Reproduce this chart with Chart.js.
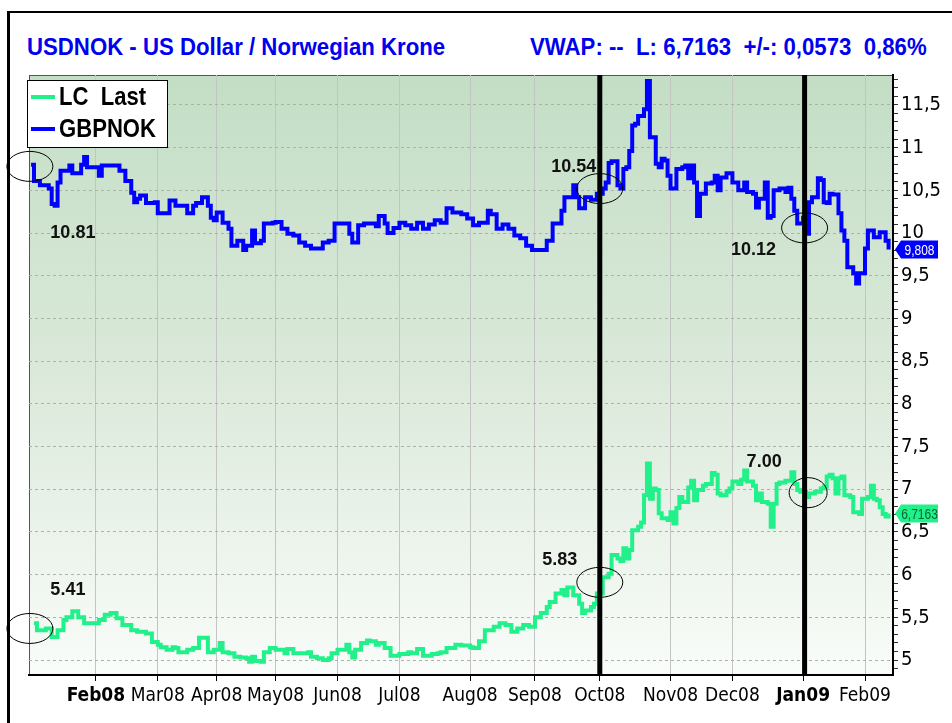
<!DOCTYPE html>
<html>
<head>
<meta charset="utf-8">
<script src="https://cdn.jsdelivr.net/npm/chart.js@4.4.1/dist/chart.umd.min.js"></script>
<style>
  body { margin: 0; background: #fff; }
  #wrap { position: relative; width: 952px; height: 723px; overflow: hidden; }
  #frame { position: absolute; left: 7px; top: 11px; width: 980px; height: 760px;
           border-left: 3px solid #000; border-top: 2px solid #000; }
  .head { position: absolute; top: 33px; color: #0000f0; font: bold 24px "Liberation Sans", Arial, sans-serif;
          white-space: pre; transform: scaleX(0.925); transform-origin: 0 0; }
  #c { position: absolute; left: 0; top: 0; }
</style>
</head>
<body>
<div id="wrap">
  <div id="frame"></div>
  <div class="head" style="left:27px">USDNOK - US Dollar / Norwegian Krone</div>
  <div class="head" style="left:530px">VWAP: --  L: 6,7163  +/-: 0,0573  0,86%</div>
  <canvas id="c" width="952" height="723"></canvas>
</div>
<script>
// x = trading days counted from 1 Feb 2008
const monthLabels = ["Feb08", "Mar08", "Apr08", "May08", "Jun08", "Jul08", "Aug08", "Sep08", "Oct08", "Nov08", "Dec08", "Jan09", "Feb09"];
const monthDays = [0, 21, 41, 61, 82, 103, 127, 149, 171, 195, 216, 240, 261];
const boldMonths = ["Feb08", "Jan09"];

const gbpDays = [-22, -21, -19, -17, -16, -15, -14, -13, -12, -10, -9, -8, -6, -5, -4, -3, 0, 1, 2, 6, 8, 10, 12, 13, 14, 15, 17, 19, 20, 21, 23, 25, 27, 30, 31, 33, 34, 36, 38, 39, 40, 41, 43, 45, 46, 48, 50, 51, 53, 54, 56, 57, 60, 61, 63, 65, 67, 69, 71, 73, 75, 77, 79, 81, 85, 86, 87, 89, 91, 93, 95, 96, 98, 99, 101, 103, 105, 107, 109, 111, 113, 115, 117, 119, 121, 124, 126, 128, 130, 131, 133, 134, 136, 138, 140, 142, 144, 146, 148, 151, 153, 155, 158, 159, 162, 163, 164, 166, 168, 170, 172, 173, 174, 175, 177, 178, 179, 180, 181, 182, 183, 184, 185, 186, 187, 188, 189, 190, 191, 192, 193, 194, 195, 197, 199, 200, 201, 202, 203, 204, 205, 207, 209, 210, 211, 212, 214, 216, 218, 219, 220, 221, 223, 224, 225, 227, 228, 229, 230, 232, 234, 235, 236, 237, 238, 240, 241, 242, 243, 245, 246, 247, 248, 249, 250, 252, 253, 254, 255, 256, 257, 258, 259, 261, 262, 263, 264, 265, 266, 267, 268, 269];
const gbpValues = [10.80, 10.61, 10.56, 10.56, 10.52, 10.34, 10.32, 10.59, 10.73, 10.73, 10.79, 10.70, 10.70, 10.80, 10.89, 10.77, 10.77, 10.67, 10.79, 10.79, 10.73, 10.61, 10.47, 10.36, 10.40, 10.44, 10.35, 10.35, 10.36, 10.23, 10.23, 10.38, 10.32, 10.32, 10.23, 10.32, 10.35, 10.42, 10.32, 10.18, 10.15, 10.24, 10.12, 10.05, 9.85, 9.91, 9.80, 9.85, 10.03, 9.88, 9.91, 10.11, 10.12, 10.13, 10.05, 9.99, 9.97, 9.89, 9.85, 9.82, 9.82, 9.89, 9.91, 10.11, 10.11, 9.99, 9.89, 10.09, 10.11, 10.11, 10.08, 10.20, 10.11, 10.00, 10.06, 10.12, 10.09, 10.05, 10.12, 10.05, 10.10, 10.15, 10.12, 10.29, 10.24, 10.22, 10.17, 10.09, 10.12, 10.12, 10.26, 10.22, 10.05, 10.10, 10.05, 9.97, 9.94, 9.85, 9.80, 9.80, 9.91, 10.11, 10.26, 10.42, 10.56, 10.42, 10.29, 10.42, 10.39, 10.46, 10.52, 10.59, 10.82, 10.84, 10.56, 10.52, 10.75, 10.77, 10.96, 11.26, 11.28, 11.37, 11.37, 11.45, 11.78, 11.12, 11.12, 10.81, 10.77, 10.87, 10.85, 10.67, 10.52, 10.75, 10.77, 10.79, 10.64, 10.79, 10.59, 10.20, 10.46, 10.58, 10.59, 10.67, 10.50, 10.65, 10.70, 10.59, 10.50, 10.50, 10.59, 10.48, 10.46, 10.30, 10.40, 10.59, 10.18, 10.20, 10.50, 10.52, 10.48, 10.53, 10.40, 10.26, 10.11, 10.18, 9.99, 10.36, 10.42, 10.64, 10.62, 10.36, 10.35, 10.46, 10.45, 10.23, 10.03, 9.91, 9.60, 9.60, 9.53, 9.41, 9.53, 9.82, 10.03, 10.03, 9.95, 9.95, 10.01, 10.01, 9.91, 9.808];

const lcDays = [-21, -20, -17, -16, -15, -13, -11, -10, -8, -6, -5, -4, 0, 1, 3, 5, 7, 9, 12, 14, 17, 19, 21, 22, 24, 26, 27, 28, 31, 33, 35, 37, 38, 40, 42, 43, 45, 47, 49, 51, 52, 53, 54, 56, 57, 59, 61, 63, 64, 65, 67, 70, 72, 73, 75, 77, 79, 80, 82, 85, 86, 87, 88, 90, 92, 93, 95, 96, 98, 100, 103, 106, 107, 109, 111, 114, 116, 117, 119, 122, 124, 127, 128, 130, 132, 135, 137, 139, 141, 143, 145, 147, 149, 151, 153, 154, 156, 158, 159, 160, 162, 164, 165, 166, 168, 169, 170, 172, 174, 175, 177, 178, 179, 180, 181, 182, 184, 185, 186, 187, 188, 189, 190, 191, 192, 194, 195, 196, 197, 198, 199, 201, 202, 203, 204, 206, 207, 209, 210, 211, 212, 214, 215, 216, 218, 219, 220, 221, 223, 224, 225, 226, 228, 229, 230, 231, 232, 234, 236, 237, 238, 239, 240, 241, 242, 244, 246, 247, 248, 249, 250, 251, 252, 253, 254, 256, 257, 259, 260, 262, 263, 264, 265, 266, 267, 268, 269];
const lcValues = [5.43, 5.35, 5.37, 5.37, 5.27, 5.35, 5.47, 5.50, 5.57, 5.50, 5.50, 5.43, 5.43, 5.47, 5.53, 5.55, 5.49, 5.41, 5.35, 5.33, 5.31, 5.21, 5.18, 5.15, 5.12, 5.15, 5.14, 5.09, 5.12, 5.14, 5.26, 5.26, 5.09, 5.12, 5.20, 5.09, 5.08, 5.04, 5.03, 5.02, 4.98, 5.04, 4.99, 4.98, 5.09, 5.14, 5.12, 5.12, 5.08, 5.13, 5.08, 5.08, 5.09, 5.04, 5.02, 5.00, 5.02, 5.08, 5.12, 5.18, 5.09, 5.03, 5.12, 5.20, 5.23, 5.22, 5.18, 5.20, 5.14, 5.05, 5.07, 5.09, 5.08, 5.13, 5.05, 5.07, 5.08, 5.09, 5.14, 5.18, 5.17, 5.15, 5.14, 5.22, 5.35, 5.39, 5.43, 5.41, 5.33, 5.37, 5.41, 5.39, 5.50, 5.55, 5.62, 5.68, 5.78, 5.82, 5.76, 5.85, 5.76, 5.66, 5.55, 5.58, 5.62, 5.66, 5.78, 5.97, 6.01, 6.23, 6.19, 6.16, 6.31, 6.19, 6.29, 6.52, 6.56, 6.61, 6.93, 7.30, 6.89, 7.01, 6.99, 6.72, 6.66, 6.64, 6.73, 6.60, 6.78, 6.91, 6.85, 7.02, 7.10, 6.87, 6.99, 7.04, 7.06, 7.19, 7.17, 6.95, 6.93, 6.97, 7.01, 7.09, 7.06, 7.11, 7.22, 7.09, 7.04, 6.87, 6.95, 6.85, 6.83, 6.56, 6.83, 7.06, 7.08, 7.10, 7.20, 7.06, 6.99, 6.97, 6.97, 6.91, 6.95, 6.97, 7.01, 7.03, 7.15, 7.17, 7.13, 6.95, 7.13, 7.15, 6.93, 6.91, 6.73, 6.71, 6.89, 6.91, 7.04, 6.89, 6.87, 6.79, 6.71, 6.68, 6.7163];

// vertical markers (start of Oct08 and Jan09)
const markerDays = [171, 240.5];

// circled points and their labels
const noteDays = [-22.4, 171, 240.5, -22.4, 171, 241.7];
const noteValues = [10.78, 10.52, 10.06, 5.37, 5.91, 6.96];
const noteTexts = ["10.81", "10.54", "10.12", "5.41", "5.83", "7.00"];
// style: label offset from circle centre, circle radii
const noteOffsets = [[43, 67], [-26, -22], [-51, 22], [38, -38], [-40, -22], [-44, -31]];
const noteRadii = [[23, 15], [23, 15], [23, 15], [23, 15], [23, 15], [19, 15]];

const NARROW = '"DejaVu Sans Condensed", "Liberation Sans Narrow", "Arial Narrow", sans-serif';
const lcColor = "#22f08a";
const gbpColor = "#0000ff";

const toPoints = (days, vals) => days.map((d, i) => ({ x: d, y: vals[i] }));
const fmt = (v) => String(v).replace(".", ",");

// Arial squeezed sideways, like the narrow font of the original
function narrowText(ctx, text, x, y, sx) {
  ctx.save();
  ctx.translate(x, y);
  ctx.scale(sx, 1);
  ctx.fillText(text, 0, 0);
  ctx.restore();
}

const chartDecor = {
  id: "chartDecor",
  beforeDraw(chart) {
    const { ctx, chartArea: a } = chart;
    const g = ctx.createLinearGradient(0, a.top, 0, a.bottom);
    g.addColorStop(0, "#c3dec5");
    g.addColorStop(0.5, "#dbe9da");
    g.addColorStop(1, "#f9fcf9");
    ctx.save();
    ctx.fillStyle = g;
    ctx.fillRect(a.left, a.top, a.right - a.left, a.bottom - a.top);
    ctx.strokeStyle = "#555";
    ctx.lineWidth = 1;
    ctx.strokeRect(a.left + 0.5, a.top + 0.5, a.right - a.left, a.bottom - a.top);
    ctx.restore();
  },
  afterDatasetsDraw(chart) {
    const { ctx, chartArea: a, scales } = chart;
    const x = scales.x, y = scales.y;
    ctx.save();
    // thick black month markers
    ctx.fillStyle = "#000";
    markerDays.forEach((d) => {
      const px = x.getPixelForValue(d);
      ctx.fillRect(px - 2.5, a.top, 5, a.bottom - a.top);
    });
    // circles + labels
    ctx.strokeStyle = "#000";
    ctx.lineWidth = 1;
    ctx.fillStyle = "#111";
    ctx.font = 'bold 18px "Liberation Sans", Arial, sans-serif';
    ctx.textAlign = "center";
    ctx.textBaseline = "middle";
    noteDays.forEach((d, i) => {
      const cx = x.getPixelForValue(d);
      const cy = y.getPixelForValue(noteValues[i]);
      ctx.beginPath();
      ctx.ellipse(cx, cy, noteRadii[i][0], noteRadii[i][1], 0, 0, Math.PI * 2);
      ctx.stroke();
      ctx.fillText(noteTexts[i], cx + noteOffsets[i][0], cy + noteOffsets[i][1]);
    });
    ctx.restore();
  },
  afterDraw(chart) {
    const { ctx, chartArea: a, scales } = chart;
    const y = scales.y;
    ctx.save();
    // last value tags on the right axis
    const tags = [
      { v: gbpValues[gbpValues.length - 1], bg: gbpColor, fg: "#fff" },
      { v: lcValues[lcValues.length - 1], bg: lcColor, fg: "#063" },
    ];
    tags.forEach((t) => {
      const py = y.getPixelForValue(t.v);
      const x0 = a.right + 2, x1 = a.right + 45;
      ctx.fillStyle = t.bg;
      ctx.beginPath();
      ctx.moveTo(x0, py);
      ctx.lineTo(x0 + 6, py - 9);
      ctx.lineTo(x1, py - 9);
      ctx.lineTo(x1, py + 9);
      ctx.lineTo(x0 + 6, py + 9);
      ctx.closePath();
      ctx.fill();
      ctx.fillStyle = t.fg;
      ctx.font = '15px "Liberation Sans", Arial, sans-serif';
      ctx.textAlign = "center";
      ctx.textBaseline = "middle";
      narrowText(ctx, fmt(t.v), (x0 + 6 + x1) / 2, py + 1, 0.8);
    });
    // legend box
    const lx = 27, ly = 80, lw = 140, lh = 67;
    ctx.fillStyle = "#fff";
    ctx.fillRect(lx, ly, lw, lh);
    ctx.strokeStyle = "#000";
    ctx.lineWidth = 1;
    ctx.strokeRect(lx + 0.5, ly + 0.5, lw, lh);
    chart.data.datasets.forEach((ds, i) => {
      const ry = ly + 17 + i * 32;
      ctx.strokeStyle = ds.borderColor;
      ctx.lineWidth = 4;
      ctx.beginPath();
      ctx.moveTo(lx + 4, ry);
      ctx.lineTo(lx + 28, ry);
      ctx.stroke();
      ctx.fillStyle = "#000";
      ctx.font = 'bold 26px "Liberation Sans", Arial, sans-serif';
      ctx.textAlign = "left";
      ctx.textBaseline = "middle";
      narrowText(ctx, ds.label, lx + 32, ry + 1, 0.85);
    });
    ctx.restore();
  },
};

new Chart(document.getElementById("c"), {
  type: "line",
  data: {
    datasets: [
      { label: "LC  Last", data: toPoints(lcDays, lcValues), borderColor: lcColor, borderWidth: 4, stepped: true, pointRadius: 0 },
      { label: "GBPNOK", data: toPoints(gbpDays, gbpValues), borderColor: gbpColor, borderWidth: 4, stepped: true, pointRadius: 0 },
    ],
  },
  options: {
    responsive: false,
    animation: false,
    layout: { padding: { left: 29, top: 75, right: 0, bottom: 0 } },
    plugins: { legend: { display: false }, title: { display: false }, tooltip: { enabled: false } },
    scales: {
      x: {
        type: "linear",
        min: -22.7,
        max: 270.5,
        afterFit: (s) => { s.height = 48; },
        afterBuildTicks: (s) => { s.ticks = monthDays.map((v) => ({ value: v })); },
        grid: { color: "#c4c4c4", tickColor: "#000", tickLength: 6, lineWidth: 1 },
        border: { color: "#000", width: 2 },
        ticks: {
          autoSkip: false,
          maxRotation: 0,
          padding: 4,
          color: "#000",
          callback: (v, i) => monthLabels[i],
          font: (c) => ({ family: NARROW, size: 19, weight: boldMonths.includes(monthLabels[c.index]) ? "bold" : "normal" }),
        },
      },
      y: {
        type: "linear",
        position: "right",
        min: 4.825,
        max: 11.85,
        afterFit: (s) => { s.width = 59; },
        afterBuildTicks: (s) => {
          const t = [];
          for (let k = 49; k <= 118; k++) t.push({ value: k / 10 });
          s.ticks = t;
        },
        grid: {
          color: (c) => (c.tick && Math.abs(c.tick.value * 2 - Math.round(c.tick.value * 2)) < 1e-6 ? "#a9b3a9" : "rgba(0,0,0,0)"),
          tickColor: "#333",
          tickLength: 5,
          lineWidth: 1,
        },
        border: { color: "#000", width: 2, dash: [3, 3] },
        ticks: {
          autoSkip: false,
          padding: 3,
          color: "#000",
          font: { family: NARROW, size: 20 },
          callback: (v) => (Math.abs(v * 2 - Math.round(v * 2)) < 1e-6 ? fmt(Math.round(v * 2) / 2) : ""),
        },
      },
    },
  },
  plugins: [chartDecor],
});
</script>
</body>
</html>
